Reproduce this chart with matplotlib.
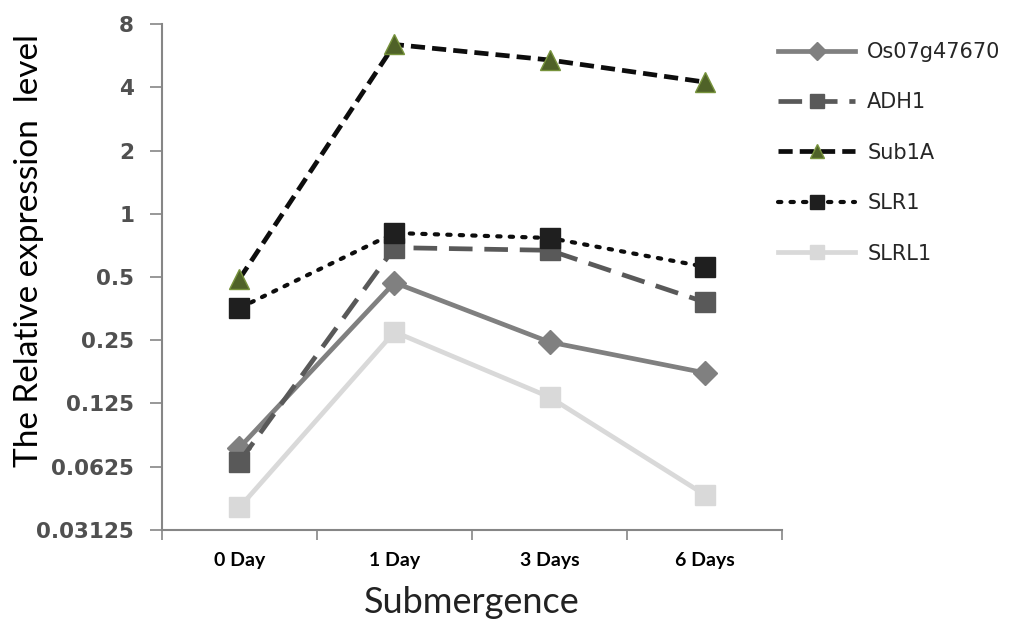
import matplotlib.pyplot as plt
from matplotlib.ticker import FixedLocator, NullFormatter

plt.rcParams['font.family'] = ['Lato', 'DejaVu Sans']

# submergence time points and relative expression (log2 scale)
days = ['0 Day', '1 Day', '3 Days', '6 Days']
os07g47670 = [0.077, 0.47, 0.245, 0.175]
adh1 = [0.066, 0.69, 0.67, 0.38]
sub1a = [0.49, 6.4, 5.4, 4.24]
slr1 = [0.356, 0.81, 0.767, 0.56]
slrl1 = [0.040, 0.274, 0.134, 0.046]

y_ticks = [0.03125, 0.0625, 0.125, 0.25, 0.5, 1, 2, 4, 8]
y_tick_labels = ['0.03125', '0.0625', '0.125', '0.25', '0.5', '1', '2', '4', '8']

fig = plt.figure(figsize=(10.25, 6.19), dpi=100)
ax = fig.add_axes([0.158, 0.144, 0.605, 0.817])

x = range(len(days))
ax.plot(x, os07g47670, color='#808080', lw=3.4, marker='D', ms=12,
        mfc='#808080', mec='#808080', label='Os07g47670')
ax.plot(x, adh1, color='#595959', lw=3.4, ls=(0, (5, 2.5)), marker='s', ms=14,
        mfc='#595959', mec='#595959', label='ADH1')
ax.plot(x, sub1a, color='#0d0d0d', lw=3.4, ls=(0, (3, 1.5)), marker='^', ms=14,
        mfc='#4F6228', mec='#77933C', mew=1, label='Sub1A')
ax.plot(x, slr1, color='#0d0d0d', lw=3.0, ls=(0, (0.8, 2.2)), marker='s', ms=14,
        mfc='#1f1f1f', mec='#1f1f1f', dash_capstyle='round', label='SLR1')
ax.plot(x, slrl1, color='#d9d9d9', lw=3.4, marker='s', ms=14,
        mfc='#d9d9d9', mec='#d9d9d9', label='SLRL1')

ax.set_yscale('log', base=2)
ax.set_ylim(0.03125, 8)
ax.yaxis.set_major_locator(FixedLocator(y_ticks))
ax.yaxis.set_minor_locator(FixedLocator([]))
ax.set_yticklabels(y_tick_labels, fontsize=15.5, fontweight='bold', color='#505050',
                   family='DejaVu Sans')

ax.set_xlim(-0.5, 3.5)
ax.set_xticks(list(x))
ax.set_xticklabels(days, fontsize=14, fontweight='bold', color='black')
ax.xaxis.set_minor_locator(FixedLocator([-0.5, 0.5, 1.5, 2.5, 3.5]))
ax.xaxis.set_minor_formatter(NullFormatter())
ax.tick_params(axis='x', which='major', length=0, pad=16)
ax.tick_params(axis='x', which='minor', length=7, width=1.2, color='#868686')
ax.tick_params(axis='y', which='major', length=9, width=1.2, color='#868686', pad=11)

for side in ['top', 'right']:
    ax.spines[side].set_visible(False)
for side in ['left', 'bottom']:
    ax.spines[side].set_color('#868686')
    ax.spines[side].set_linewidth(1.5)

ax.set_ylabel('The Relative expression  level', fontsize=24, color='black')
ax.yaxis.set_label_coords(-0.19, 0.553)
ax.set_xlabel('Submergence', fontsize=26, color='#222222', labelpad=12)

ax.legend(loc='upper left', bbox_to_anchor=(0.9935, 0.965), frameon=False,
          prop={'family': 'DejaVu Sans', 'size': 15}, handlelength=3.7,
          labelspacing=1.46, handletextpad=0.58, borderpad=0, borderaxespad=0,
          markerscale=0.75, labelcolor='#262626')

fig.savefig('out.png', dpi=100, facecolor='white')
